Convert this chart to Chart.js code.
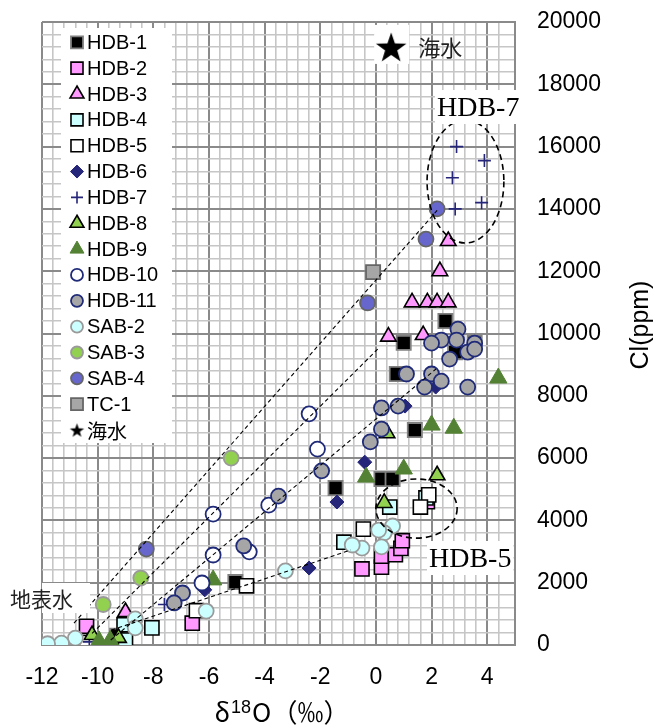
<!DOCTYPE html>
<html>
<head>
<meta charset="utf-8">
<script src="https://cdn.jsdelivr.net/npm/chart.js@4.4.1/dist/chart.umd.min.js"></script>
<style>
  html, body { margin: 0; padding: 0; background: #ffffff; }
  #wrap { position: relative; width: 656px; height: 725px; }
</style>
</head>
<body>
<div id="wrap"><canvas id="c" width="656" height="725"></canvas></div>
<script>
// ---- measurements: [δ18O (‰), Cl (ppm)] ----
const HDB1 = [[2.5,10400],[1.0,9700],[3.55,9700],[2.85,9400],[0.75,8700],[1.4,6900],[0.2,5330],[0.6,5330],[-1.45,5040],[-5.05,2020],[-9.3,300]];
const HDB2 = [[-0.5,2440],[0.2,2500],[0.2,2850],[0.7,2900],[0.9,3100],[0.95,3350],[1.85,4600],[-10.4,600],[-6.6,700]];
const HDB3 = [[2.6,12970],[2.3,12000],[1.3,11000],[1.85,11000],[2.2,11000],[2.6,11000],[0.45,9900],[1.7,9950],[-9.0,1060]];
const HDB4 = [[0.5,4430],[1.8,4720],[-1.15,3300],[-8.05,550],[-9.0,160],[-9.05,650]];
const HDB5 = [[1.9,4820],[1.6,4430],[-0.45,3720],[-4.65,1900],[-6.45,1100],[-10.4,80]];
const HDB6 = [[2.15,8280],[1.05,7670],[-0.4,5870],[-1.4,4590],[-2.4,2470],[-6.15,1770]];
const HDB7 = [[2.9,16000],[3.9,15550],[2.75,15000],[2.85,14000],[3.8,14200],[-7.6,1300],[-10.3,100]];
const HDB8 = [[2.2,5450],[0.3,4560],[0.4,6800],[-10.2,320],[-9.25,230]];
const HDB9 = [[4.4,8570],[2.0,7060],[2.8,6960],[1.0,5650],[-0.35,5390],[-5.85,2090],[-9.95,130],[-9.55,150],[-9.5,0]];
const HDB10 = [[-2.4,7420],[-2.1,6290],[-3.85,4490],[-5.85,4200],[-4.55,2990],[-5.85,2890],[-6.25,1990]];
const HDB11 = [[2.95,10140],[2.35,9790],[2.0,9690],[2.9,9790],[3.55,9690],[3.3,9400],[3.55,9500],[2.65,9180],
               [1.1,8700],[2.0,8700],[2.35,8470],[1.75,8280],[3.3,8280],[0.2,7610],[0.8,7670],[0.2,6930],
               [-0.2,6520],[-1.95,5590],[-3.5,4780],[-4.75,3180],[-6.95,1670],[-7.25,1350]];
const SAB2 = [[0.6,3820],[0.3,3600],[0.1,3690],[-0.5,3110],[-0.85,3210],[0.2,3150],[-3.25,2380],[-6.1,1090],
              [-8.65,840],[-8.65,550],[-10.8,220],[-11.3,60],[-11.8,40]];
const SAB3 = [[-5.2,6000],[-8.45,2150],[-9.8,1300]];
const SAB4 = [[2.2,14000],[1.8,13030],[-0.3,10980],[-8.25,3080]];
const TC1 = [[-0.1,11970]];
const SEAWATER = [[0.55,19200]];

// mixing lines from the surface-water end toward the saline samples
const MIX_A = [[-10.85,700],[2.2,13950]];
const MIX_B = [[-10.2,370],[0.1,9530]];
const MIX_C = [[-9.53,160],[2.16,8860]];
const MIX_D = [[-9.5,480],[-0.9,3050]];

// grouped samples (centre and half-axes in axis units)
const GROUP_HDB7 = { cx: 3.22, cy: 14880, rx: 1.38, ry: 1975 };
const GROUP_HDB5 = { cx: 1.46, cy: 4380, rx: 1.46, ry: 950 };

// axis tick labels
const X_TICKS = [-12, -10, -8, -6, -4, -2, 0, 2, 4];
const Y_TICKS = [0, 2000, 4000, 6000, 8000, 10000, 12000, 14000, 16000, 18000, 20000];

// ---- star marker ----
function starPath(ctx, cx, cy, R) {
  const r = R * 0.40;
  ctx.beginPath();
  for (let i = 0; i < 10; i++) {
    const a = -Math.PI / 2 + i * Math.PI / 5;
    const rr = i % 2 === 0 ? R : r;
    const px = cx + rr * Math.cos(a), py = cy + rr * Math.sin(a);
    if (i === 0) ctx.moveTo(px, py); else ctx.lineTo(px, py);
  }
  ctx.closePath();
}
function starCanvas(R) {
  const s = Math.ceil(R * 2 + 4);
  const cv = document.createElement('canvas');
  cv.width = s; cv.height = s;
  const g = cv.getContext('2d');
  starPath(g, s / 2, s / 2 + R * 0.1, R);
  g.fillStyle = '#000000';
  g.fill();
  return cv;
}
const STAR_BIG = starCanvas(16);
const STAR_SMALL = starCanvas(7.5);

const NAVY = '#25257a';
const SERIES = [
  { label: 'HDB-1',  data: HDB1,  style: { shape: 'rect',     r: 10,  lr: 8.5, bg: '#000000', bd: '#808080', bw: 1.8 } },
  { label: 'HDB-2',  data: HDB2,  style: { shape: 'rect',     r: 10,  lr: 8.5, bg: '#ff99ff', bd: '#000000', bw: 1.6 } },
  { label: 'HDB-3',  data: HDB3,  style: { shape: 'triangle', r: 9,   lr: 8,   bg: '#ff99ff', bd: '#000000', bw: 1.6 } },
  { label: 'HDB-4',  data: HDB4,  style: { shape: 'rect',     r: 10,  lr: 8.5, bg: '#ccffff', bd: '#000000', bw: 1.6 } },
  { label: 'HDB-5',  data: HDB5,  style: { shape: 'rect',     r: 10,  lr: 8.5, bg: '#ffffff', bd: '#000000', bw: 1.6 } },
  { label: 'HDB-6',  data: HDB6,  style: { shape: 'rectRot',  r: 7,   lr: 6.5, bg: NAVY,      bd: NAVY,      bw: 1 } },
  { label: 'HDB-7',  data: HDB7,  style: { shape: 'cross',    r: 6.5, lr: 6,   bg: NAVY,      bd: NAVY,      bw: 1.6 } },
  { label: 'HDB-8',  data: HDB8,  style: { shape: 'triangle', r: 9,   lr: 8,   bg: '#92d050', bd: '#000000', bw: 1.6 } },
  { label: 'HDB-9',  data: HDB9,  style: { shape: 'triangle', r: 10,  lr: 8,   bg: '#548235', bd: '#548235', bw: 1 } },
  { label: 'HDB-10', data: HDB10, style: { shape: 'circle',   r: 7.5, lr: 6,   bg: '#ffffff', bd: '#1f2a78', bw: 1.8 } },
  { label: 'HDB-11', data: HDB11, style: { shape: 'circle',   r: 7.5, lr: 6,   bg: '#a6a6a6', bd: '#1f2a78', bw: 1.8 } },
  { label: 'SAB-2',  data: SAB2,  style: { shape: 'circle',   r: 7.5, lr: 6,   bg: '#ccffff', bd: '#9a9a9a', bw: 1.8 } },
  { label: 'SAB-3',  data: SAB3,  style: { shape: 'circle',   r: 7.5, lr: 6,   bg: '#92d050', bd: '#9a9a9a', bw: 1.8 } },
  { label: 'SAB-4',  data: SAB4,  style: { shape: 'circle',   r: 7.5, lr: 6,   bg: '#6666cc', bd: '#666666', bw: 1.8 } },
  { label: 'TC-1',   data: TC1,   style: { shape: 'rect',     r: 10,  lr: 8.5, bg: '#a6a6a6', bd: '#666666', bw: 1.8 } },
  { label: '海水',   data: SEAWATER, style: { shape: 'star',  r: 16,  lr: 7.5, bg: '#000000', bd: '#000000', bw: 0 } }
];

const toPts = arr => arr.map(([x, y]) => ({ x, y }));

const datasets = SERIES.map((s, i) => {
  const st = s.style;
  const ps = st.shape === 'star' ? STAR_BIG : st.shape;
  return {
    type: 'scatter',
    label: s.label,
    data: toPts(s.data),
    order: 100 - i,
    pointStyle: ps,
    pointRadius: st.r,
    pointBackgroundColor: st.bg,
    pointBorderColor: st.bd,
    pointBorderWidth: st.bw,
    backgroundColor: st.bg,
    borderColor: st.bd
  };
});

[MIX_A, MIX_B, MIX_C, MIX_D].forEach((m, i) => {
  datasets.push({
    type: 'line',
    label: 'mix' + i,
    data: toPts(m),
    order: -10,
    showLine: true,
    fill: false,
    borderColor: '#000000',
    borderWidth: 1.1,
    borderDash: [4, 3],
    pointRadius: 0,
    tension: 0
  });
});

const isMajor = (v, step) => Math.abs(v / step - Math.round(v / step)) < 1e-6;

// white box behind the seawater star, beneath the datasets
const underlay = {
  id: 'underlay',
  beforeDatasetsDraw(chart) {
    const { ctx, scales: { x, y } } = chart;
    const sx = x.getPixelForValue(SEAWATER[0][0]);
    const sy = y.getPixelForValue(SEAWATER[0][1]);
    ctx.save();
    ctx.fillStyle = '#ffffff';
    ctx.fillRect(sx - 17, sy - 22, 35, 39);
    ctx.restore();
  }
};

function drawMarker(ctx, st, radius, px, py) {
  if (st.shape === 'star') {
    ctx.drawImage(STAR_SMALL, px - STAR_SMALL.width / 2, py - STAR_SMALL.height / 2);
    return;
  }
  ctx.save();
  ctx.fillStyle = st.bg;
  ctx.strokeStyle = st.bd;
  ctx.lineWidth = st.bw;
  Chart.helpers.drawPoint(ctx, { pointStyle: st.shape, radius: radius, rotation: 0, borderWidth: st.bw }, px, py);
  ctx.restore();
}

const overlay = {
  id: 'overlay',
  afterDatasetsDraw(chart) {
    const { ctx, chartArea: ca, scales: { x, y } } = chart;
    ctx.save();

    // group outlines
    ctx.strokeStyle = '#000000';
    ctx.lineWidth = 1.6;
    ctx.setLineDash([6, 4]);
    [GROUP_HDB7, GROUP_HDB5].forEach(g => {
      const cx = x.getPixelForValue(g.cx), cy = y.getPixelForValue(g.cy);
      const rx = Math.abs(x.getPixelForValue(g.cx + g.rx) - cx);
      const ry = Math.abs(y.getPixelForValue(g.cy + g.ry) - cy);
      ctx.beginPath();
      ctx.ellipse(cx, cy, rx, ry, 0, 0, Math.PI * 2);
      ctx.stroke();
    });
    ctx.setLineDash([]);

    // seawater caption
    const sx = x.getPixelForValue(SEAWATER[0][0]);
    const sy = y.getPixelForValue(SEAWATER[0][1]);
    ctx.fillStyle = '#222222';
    ctx.font = '22px "Noto Sans CJK JP"';
    ctx.textBaseline = 'middle';
    ctx.textAlign = 'left';
    ctx.fillText('海水', sx + 27, sy + 1);

    // group captions
    ctx.font = '28px "Liberation Serif"';
    ctx.textBaseline = 'alphabetic';
    const captions = [
      { text: 'HDB-7', px: ca.right - 78, py: 116 },
      { text: 'HDB-5', px: ca.right - 86, py: 567 }
    ];
    captions.forEach(c => {
      const w = ctx.measureText(c.text).width;
      ctx.fillStyle = '#ffffff';
      ctx.fillRect(c.px - 2, c.py - 26, w + 4, 34);
      ctx.fillStyle = '#000000';
      ctx.fillText(c.text, c.px, c.py);
    });

    // surface-water caption
    ctx.fillStyle = '#ffffff';
    ctx.fillRect(ca.left, 583, 48, 30);
    ctx.fillStyle = '#222222';
    ctx.font = '21px "Noto Sans CJK JP"';
    ctx.textBaseline = 'middle';
    ctx.fillText('地表水', 10, 599);

    // series key
    const kx = ca.left + 19, ky = 28, kw = 111, kh = 415;
    ctx.fillStyle = '#ffffff';
    ctx.fillRect(kx, ky, kw, kh);
    SERIES.forEach((s, i) => {
      const iy = 42.3 + i * 25.85;
      drawMarker(ctx, s.style, s.style.lr, kx + 16, iy);
      ctx.fillStyle = '#000000';
      ctx.font = s.label === '海水' ? '20px "Noto Sans CJK JP"' : '20px "Liberation Sans"';
      ctx.textBaseline = 'middle';
      ctx.textAlign = 'left';
      ctx.fillText(s.label, kx + 26, iy + 1);
    });

    // axis titles
    ctx.fillStyle = '#000000';
    ctx.save();
    ctx.translate(641, 325);
    ctx.rotate(-Math.PI / 2);
    ctx.font = '25px "Liberation Sans"';
    ctx.textAlign = 'center';
    ctx.textBaseline = 'middle';
    ctx.fillText('Cl(ppm)', 0, 0);
    ctx.restore();

    const big = '26px "Noto Sans CJK JP"';
    const sup = '18px "Liberation Sans"';
    const parts = [
      { t: 'δ', f: big, dy: 0 },
      { t: '18', f: sup, dy: -9 },
      { t: 'O（‰）', f: big, dy: 0 }
    ];
    let total = 0;
    parts.forEach(p => { ctx.font = p.f; p.w = ctx.measureText(p.t).width; total += p.w + 1; });
    let tx = (ca.left + ca.right) / 2 + 4 - total / 2;
    ctx.textAlign = 'left';
    ctx.textBaseline = 'alphabetic';
    parts.forEach(p => {
      ctx.font = p.f;
      ctx.fillText(p.t, tx, 722 + p.dy);
      tx += p.w + 1;
    });

    ctx.restore();
  }
};

new Chart(document.getElementById('c'), {
  type: 'scatter',
  data: { datasets },
  options: {
    responsive: false,
    animation: false,
    events: [],
    devicePixelRatio: 1,
    layout: { padding: { left: 42, top: 22, right: 0, bottom: 0 } },
    plugins: { legend: { display: false }, tooltip: { enabled: false } },
    scales: {
      x: {
        type: 'linear',
        min: -12, max: 5,
        afterFit(s) { s.height = 80; },
        border: { display: true, color: '#8a8a8a', width: 2 },
        grid: {
          drawTicks: false,
          color: c => isMajor(c.tick.value, 2) ? '#8a8a8a' : '#c6c6c6',
          lineWidth: c => isMajor(c.tick.value, 2) ? 2 : 1.6
        },
        ticks: {
          stepSize: 0.4,
          autoSkip: false,
          maxRotation: 0,
          padding: 19,
          color: '#000000',
          font: { family: 'Liberation Sans', size: 23 },
          callback: v => X_TICKS.some(t => Math.abs(t - v) < 1e-6) ? String(Math.round(v)) : ''
        },
        title: { display: false }
      },
      y: {
        type: 'linear',
        position: 'right',
        min: 0, max: 20000,
        afterFit(s) { s.width = 141; s.paddingTop = 0; s.paddingBottom = 0; },
        border: { display: true, color: '#8a8a8a', width: 2 },
        grid: {
          drawTicks: false,
          color: c => isMajor(c.tick.value, 2000) ? '#8a8a8a' : '#c6c6c6',
          lineWidth: c => isMajor(c.tick.value, 2000) ? 2 : 1.6
        },
        ticks: {
          stepSize: 400,
          autoSkip: false,
          padding: 22,
          color: '#000000',
          font: { family: 'Liberation Sans', size: 23 },
          callback: v => Y_TICKS.some(t => Math.abs(t - v) < 1e-6) ? String(Math.round(v)) : ''
        },
        title: { display: false }
      }
    }
  },
  plugins: [underlay, overlay]
});
</script>
</body>
</html>
